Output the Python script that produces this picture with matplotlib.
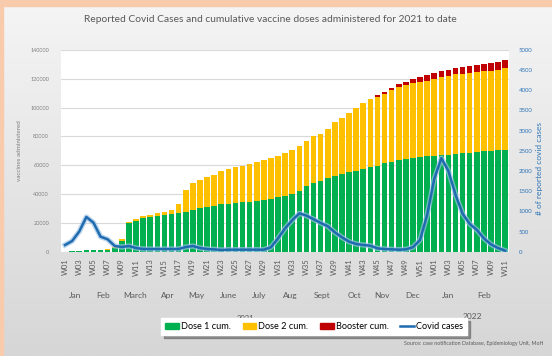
import numpy as np
import matplotlib.pyplot as plt
import matplotlib.patheffects as pe
from matplotlib.patches import Rectangle, Patch
from matplotlib.lines import Line2D
from matplotlib.colors import LinearSegmentedColormap

plt.rcParams['font.family'] = ['Lato', 'DejaVu Sans']

# weekly labels: 2021 W01-W52, then 2022 W01-W11
weeks = [f"W{n:02d}" for n in range(1, 53)] + [f"W{n:02d}" for n in range(1, 12)]

dose1 = [0, 200, 700, 900, 1100, 1300, 1500, 2500, 7400,
         19700, 21400, 23200, 24400, 25100, 25800, 26200, 26700, 27400, 28600,
         30200, 31300, 32000, 33000, 33200, 34100, 34400, 34800, 35500, 36000,
         36500, 37800, 39000, 40000, 42000,
         45300, 47600, 49200, 51100, 52700, 53900, 55000, 56200, 57400, 58500,
         59700, 61300, 62500, 63600, 64600, 65300, 65700, 66200, 66600, 66900,
         67300, 67800, 68300, 68700, 69200, 69700, 70100, 70400, 70800]

dose2 = [0, 0, 0, 0, 0, 0, 300, 1000, 1200,
         1200, 1100, 1400, 1400, 1800, 1800, 2400, 6500, 15300, 19000,
         19500, 20700, 21400, 22700, 23900, 24900, 25300, 26000, 26500, 27400,
         28500, 28600, 29500, 30800, 31600,
         31600, 32500, 32800, 34300, 37200, 39000, 41100, 43600, 45500, 47200,
         47900, 48400, 49800, 50900, 51000, 51500, 52000, 52500, 53400, 54300,
         54800, 55300, 55200, 55300, 55500, 55500, 55500, 55700, 56700]

booster = [0] * 44 + [900, 1100, 1200, 1600, 2400, 2800, 3300, 3700, 4000, 4100,
                      4200, 4300, 4500, 4600, 4700, 4900, 5100, 5300, 5600]

cases = [166, 265, 500, 860, 720, 373, 307, 141, 116, 141,
         91, 66, 66, 66, 66, 66, 66, 116, 141, 91,
         66, 58, 42, 50, 50, 50, 50, 50, 50, 110,
         330, 580, 780, 950, 895, 805, 713, 630, 481, 356,
         249, 191, 166, 149, 83, 66, 58, 50, 58, 110,
         290, 910, 1800, 2320, 2000, 1410, 940, 690, 540, 330,
         180, 90, 25]

months = ["Jan", "Feb", "March", "Apr", "May", "June", "July", "Aug",
          "Sept", "Oct", "Nov", "Dec", "Jan", "Feb"]
month_pos = [1.4, 5.3, 9.9, 14.5, 18.5, 23, 27.3, 31.7, 36.2, 40.7, 44.6, 49, 53.9, 59]

green, orange, red, blue = '#00b050', '#ffc000', '#c00000', '#1f6bb0'

x = np.arange(len(weeks))
d1 = np.array(dose1)
d2 = np.array(dose2)
bst = np.array(booster)

fig = plt.figure(figsize=(5.52, 3.56), dpi=100)

# grey gradient backdrop with peach frame
bg = fig.add_axes([0, 0, 1, 1], zorder=-10)
grad = np.linspace(0, 1, 256).reshape(-1, 1)
bg.imshow(grad, aspect='auto', extent=[0, 1, 0, 1],
          cmap=LinearSegmentedColormap.from_list('bg', ['#f5f5f5', '#d6d6d6']))
bg.axis('off')
fig.patches.append(Rectangle((0, 1 - 6 / 356), 1, 6 / 356, transform=fig.transFigure,
                             color='#f8cbad', zorder=-5))
fig.patches.append(Rectangle((0, 0), 3 / 552, 1, transform=fig.transFigure,
                             color='#f8cbad', zorder=-5))

ax = fig.add_axes([0.1114, 0.293, 0.8103, 0.5666])
ax.set_facecolor('white')
ax.bar(x, d1, width=0.78, color=green, zorder=2)
ax.bar(x, d2, width=0.78, bottom=d1, color=orange, zorder=2)
ax.bar(x, bst, width=0.78, bottom=d1 + d2, color=red, zorder=2)

ax.set_xlim(-0.5, len(weeks) - 0.5)
ax.set_ylim(0, 140000)
ax.set_yticks(np.arange(0, 140001, 20000))
ax.yaxis.grid(True, color='#d9d9d9', lw=0.8, zorder=0)
ax.set_axisbelow(True)
ax.set_xticks(x[::2])
ax.set_xticklabels(weeks[::2], rotation=90, fontsize=5.5, color='#595959')
ax.tick_params(axis='y', labelsize=4, colors='#7f7f7f', length=0, pad=9)
ax.tick_params(axis='x', length=0, pad=5)
for s in ax.spines.values():
    s.set_visible(False)
ax.set_ylabel("vaccines administered", fontsize=4.5, color='#7f7f7f', labelpad=6)

ax2 = ax.twinx()
ax2.plot(x, cases, color=blue, lw=1.8, zorder=3,
         path_effects=[pe.Stroke(linewidth=3.8, foreground='#9dc3e6', alpha=0.7), pe.Normal()])
ax2.set_ylim(0, 5000)
ax2.set_yticks(np.arange(0, 5001, 500))
ax2.tick_params(axis='y', labelsize=4.3, colors='#2e75b6', length=0, pad=7)
for s in ax2.spines.values():
    s.set_visible(False)
fig.text(0.978, 0.528, "# of reported covid cases", rotation=90, fontsize=6,
         color='#2e75b6', ha='center', va='center')

# month and year labels under the week ticks
for m, p in zip(months, month_pos):
    ax.text(p, -0.215, m, transform=ax.get_xaxis_transform(), ha='center', va='center',
            fontsize=6, color='#595959')
fig.text(0.444, 0.105, "2021", fontsize=5.5, color='#595959', ha='center', va='center')
fig.text(0.855, 0.112, "2022", fontsize=6, color='#595959', ha='center', va='center')

fig.text(0.49, 0.944, "Reported Covid Cases and cumulative vaccine doses administered for 2021 to date",
         ha='center', va='center', fontsize=7.4, color='#595959')

handles = [Patch(color=green), Patch(color=orange), Patch(color=red),
           Line2D([], [], color=blue, lw=1.8)]
leg = fig.legend(handles, ["Dose 1 cum.", "Dose 2 cum.", "Booster cum.", "Covid cases"],
                 loc='center', bbox_to_anchor=(0.569, 0.083), ncol=4, fontsize=6.6,
                 frameon=True, fancybox=False, shadow=True, handlelength=1.5,
                 handleheight=0.6, handletextpad=0.2, columnspacing=1.3,
                 borderpad=0.45)
leg.get_frame().set_facecolor('white')
leg.get_frame().set_edgecolor('white')
leg.set_zorder(10)

fig.text(0.984, 0.036, "Source: case notification Database, Epidemiology Unit, MoH",
         ha='right', va='center', fontsize=3.8, color='#595959')

fig.savefig("out.png", dpi=100)
